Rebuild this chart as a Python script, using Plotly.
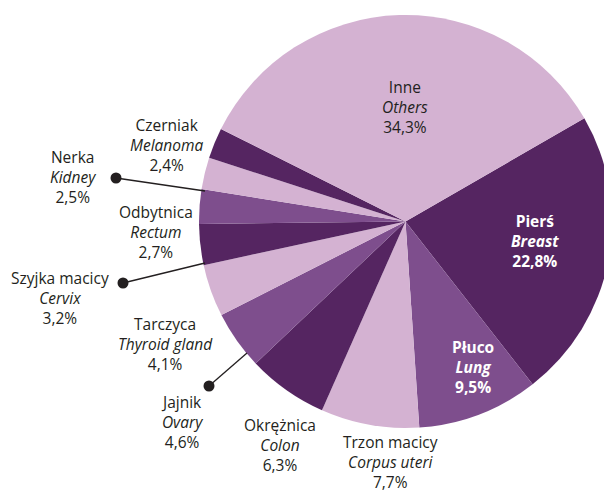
import plotly.graph_objects as go

# ---- data ----
labels_pl = ["Pierś", "Płuco", "Trzon macicy", "Okrężnica", "Jajnik", "Tarczyca",
             "Szyjka macicy", "Odbytnica", "Nerka", "Czerniak", "Inne"]
labels_en = ["Breast", "Lung", "Corpus uteri", "Colon", "Ovary", "Thyroid gland",
             "Cervix", "Rectum", "Kidney", "Melanoma", "Others"]
values = [22.8, 9.5, 7.7, 6.3, 4.6, 4.1, 3.2, 2.7, 2.5, 2.4, 34.3]

# page has an 8px body margin; figure fills the remaining visible area
OFF = 8
W, H = 612 - OFF, 492 - OFF
DARK, MED, LIGHT = "#552561", "#7e4e8d", "#d4b2d2"
colors = [DARK, MED, LIGHT, DARK, MED, LIGHT, DARK, MED, LIGHT, DARK, LIGHT]

def px(x):
    return (x - OFF) / W

def py(y):
    return 1 - (y - OFF) / H

fig = go.Figure(go.Pie(
    labels=labels_pl, values=values, sort=False, direction="clockwise",
    rotation=60, marker=dict(colors=colors, line=dict(width=0)),
    textinfo="none", hoverinfo="label+percent", showlegend=False,
    domain=dict(x=[px(199), 1.0], y=[py(428), py(15)]),
))

# label placement (page-pixel centres) per slice
label_pos = [(535, 241), (473, 367), (390, 462), (280, 445), (182, 422), (165, 344),
             (60, 298), (156, 232), (73, 177), (167, 145), (405, 107)]
inside = {0, 1}

def pct(v):
    return f"{v:.1f}".replace(".", ",") + "%"

annotations = []
for i, (pl, en, v) in enumerate(zip(labels_pl, labels_en, values)):
    x, y = label_pos[i]
    if i in inside:
        txt = f"<b>{pl}</b><br><b><i>{en}</i></b><br><b>{pct(v)}</b>"
        col = "white"
    else:
        txt = f"{pl}<br><i>{en}</i><br>{pct(v)}"
        col = "#231f20"
    annotations.append(dict(x=px(x), y=py(y), xref="paper", yref="paper",
                            text=txt, showarrow=False, align="center",
                            xanchor="center", yanchor="middle",
                            font=dict(family="Open Sans", size=15.5, color=col)))

# leader lines with dots (Nerka, Szyjka macicy, Jajnik)
leaders = [((116, 178), (205, 191)), ((123, 283), (205, 263)), ((209, 386), (247, 353))]
shapes = []
for (dx, dy), (ex, ey) in leaders:
    shapes.append(dict(type="line", xref="paper", yref="paper",
                       x0=px(dx), y0=py(dy), x1=px(ex), y1=py(ey),
                       line=dict(color="#231f20", width=1.3)))
    r = 5.5
    shapes.append(dict(type="circle", xref="paper", yref="paper",
                       x0=px(dx - r), x1=px(dx + r),
                       y0=py(dy + r), y1=py(dy - r),
                       fillcolor="#231f20", line=dict(width=0)))

fig.update_layout(width=W, height=H, margin=dict(l=0, r=0, t=0, b=0),
                  paper_bgcolor="white", plot_bgcolor="white",
                  annotations=annotations, shapes=shapes)

fig.write_html("out.html")
